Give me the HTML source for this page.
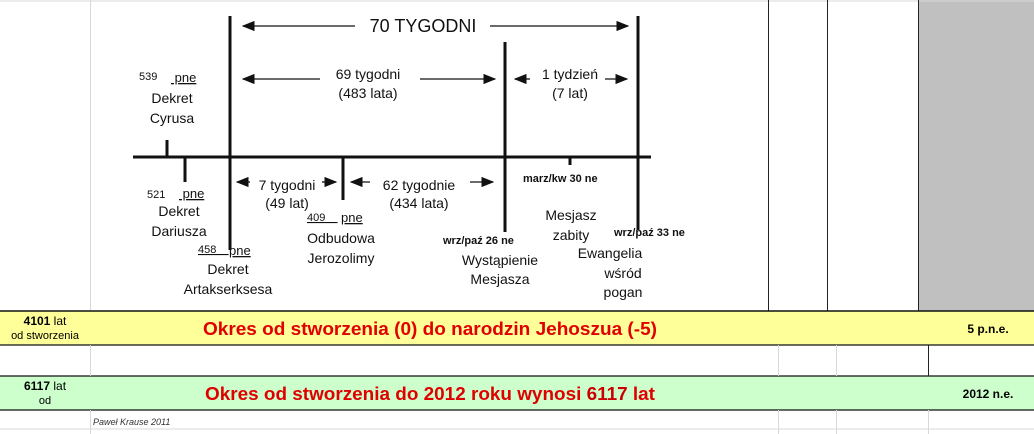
<!DOCTYPE html>
<html><head><style>
body{margin:0;width:1034px;height:434px;overflow:hidden;background:#fff;font-family:"Liberation Sans",Arial,sans-serif}
svg{display:block}
</style></head><body>
<svg width="1034" height="434" xmlns="http://www.w3.org/2000/svg" font-family="Liberation Sans, Arial, sans-serif">
<rect x="918" y="0" width="116" height="311" fill="#c0c0c0"/>
<line x1="0" y1="1" x2="1034" y2="1" stroke="#d8d8d8"/>
<line x1="90.5" y1="0" x2="90.5" y2="311" stroke="#d8d8d8"/>
<line x1="768.5" y1="0" x2="768.5" y2="311" stroke="#222"/>
<line x1="827.5" y1="0" x2="827.5" y2="311" stroke="#222"/>
<line x1="918.5" y1="0" x2="918.5" y2="311" stroke="#222"/>
<rect x="0" y="311" width="1034" height="34" fill="#ffff99"/>
<rect x="0" y="376" width="1034" height="34" fill="#ccffcc"/>
<line x1="0" y1="311" x2="1034" y2="311" stroke="#111" stroke-width="1.5"/>
<line x1="0" y1="345" x2="1034" y2="345" stroke="#111" stroke-width="1.2"/>
<line x1="0" y1="376" x2="1034" y2="376" stroke="#111" stroke-width="1.2"/>
<line x1="0" y1="410" x2="1034" y2="410" stroke="#111" stroke-width="1.2"/>
<line x1="0" y1="429" x2="1034" y2="429" stroke="#d8d8d8"/>
<line x1="90.5" y1="345" x2="90.5" y2="376" stroke="#d8d8d8"/>
<line x1="90.5" y1="410" x2="90.5" y2="434" stroke="#d8d8d8"/>
<line x1="778.5" y1="345" x2="778.5" y2="376" stroke="#d8d8d8"/>
<line x1="836.5" y1="345" x2="836.5" y2="376" stroke="#d8d8d8"/>
<line x1="928.5" y1="345" x2="928.5" y2="376" stroke="#222"/>
<line x1="778.5" y1="410" x2="778.5" y2="434" stroke="#d8d8d8"/>
<line x1="836.5" y1="410" x2="836.5" y2="434" stroke="#d8d8d8"/>
<line x1="928.5" y1="410" x2="928.5" y2="434" stroke="#d8d8d8"/>
<text x="45" y="325" font-size="12" text-anchor="middle"><tspan font-weight="bold">4101</tspan> lat</text>
<text x="45" y="339" font-size="11" text-anchor="middle">od stworzenia</text>
<text x="203" y="335" font-size="18" font-weight="bold" fill="#e00000" textLength="454" lengthAdjust="spacingAndGlyphs">Okres od stworzenia (0) do narodzin Jehoszua (-5)</text>
<text x="988" y="333" font-size="12" font-weight="bold" text-anchor="middle">5 p.n.e.</text>
<text x="45" y="390" font-size="12" text-anchor="middle"><tspan font-weight="bold">6117</tspan> lat</text>
<text x="45" y="404" font-size="11" text-anchor="middle">od</text>
<text x="205" y="400" font-size="18" font-weight="bold" fill="#e00000" textLength="450" lengthAdjust="spacingAndGlyphs">Okres od stworzenia do 2012 roku wynosi <tspan fill="#cc0000">6117</tspan> lat</text>
<text x="988" y="398" font-size="12" font-weight="bold" text-anchor="middle">2012 n.e.</text>
<text x="93" y="425" font-size="9" font-style="italic" fill="#333">Paweł Krause 2011</text>
<g stroke="#111" stroke-width="3">
<line x1="133" y1="157" x2="651" y2="157"/>
<line x1="230" y1="16" x2="230" y2="250"/>
<line x1="505" y1="42" x2="505" y2="232"/>
<line x1="638" y1="16" x2="638" y2="230"/>
<line x1="167" y1="140" x2="167" y2="157"/>
<line x1="185" y1="157" x2="185" y2="182"/>
<line x1="343" y1="157" x2="343" y2="200"/>
<line x1="570" y1="157" x2="570" y2="165"/>
</g>
<defs><marker id="a" markerWidth="10" markerHeight="8" refX="9" refY="4" orient="auto"><path d="M0,0 L10,4 L0,8 z" fill="#111"/></marker></defs>
<g stroke="#111" stroke-width="1.3" marker-end="url(#a)">
<line x1="355" y1="26" x2="243" y2="26"/>
<line x1="490" y1="26" x2="628" y2="26"/>
<line x1="320" y1="79" x2="243" y2="79"/>
<line x1="420" y1="79" x2="495" y2="79"/>
<line x1="530" y1="79" x2="515" y2="79"/>
<line x1="605" y1="79" x2="627" y2="79"/>
<line x1="250" y1="182" x2="237" y2="182"/>
<line x1="322" y1="182" x2="336" y2="182"/>
<line x1="370" y1="182" x2="351" y2="182"/>
<line x1="470" y1="182" x2="493" y2="182"/>
</g>
<g font-size="14" fill="#111" text-anchor="middle">
<text x="423" y="32" font-size="18">70 TYGODNI</text>
<text x="368" y="79">69 tygodni</text><text x="368" y="98">(483 lata)</text>
<text x="570" y="79">1 tydzień</text><text x="570" y="98">(7 lat)</text>
<text x="172" y="103">Dekret</text><text x="172" y="123">Cyrusa</text>
<text x="179" y="216">Dekret</text><text x="179" y="236">Dariusza</text>
<text x="228" y="274">Dekret</text><text x="228" y="294">Artakserksesa</text>
<text x="287" y="190">7 tygodni</text><text x="287" y="208">(49 lat)</text>
<text x="419" y="190">62 tygodnie</text><text x="419" y="208">(434 lata)</text>
<text x="341" y="243">Odbudowa</text><text x="341" y="263">Jerozolimy</text>
<text x="500" y="265">Wystąpienie</text><text x="500" y="284">Mesjasza</text>
<text x="571" y="220">Mesjasz</text><text x="571" y="240">zabity</text>
<text x="610" y="258">Ewangelia</text><text x="623" y="278">wśród</text><text x="623" y="297">pogan</text>
</g>
<g font-size="12" fill="#111">
<text x="171" y="82" text-decoration="underline" font-size="13">&#160;pne</text>
<text x="139" y="80" font-size="11">539</text>
<text x="147" y="198" font-size="11">521</text>
<text x="179" y="198" font-size="13" text-decoration="underline">&#160;pne</text>
<text x="198" y="253" font-size="11" text-decoration="underline">458&#160;&#160;&#160;&#160;</text>
<text x="229" y="255" font-size="13" text-decoration="underline">pne</text>
<text x="307" y="221" font-size="11" text-decoration="underline">409&#160;&#160;&#160;&#160;</text>
<text x="341" y="222" font-size="13" text-decoration="underline">pne</text>
<text x="443" y="244" font-size="11" font-weight="bold">wrz/paź 26 ne</text>
<text x="523" y="182" font-size="11" font-weight="bold">marz/kw 30 ne</text>
<text x="614" y="236" font-size="11" font-weight="bold">wrz/paź 33 ne</text>
</g>
</svg>
</body></html>
